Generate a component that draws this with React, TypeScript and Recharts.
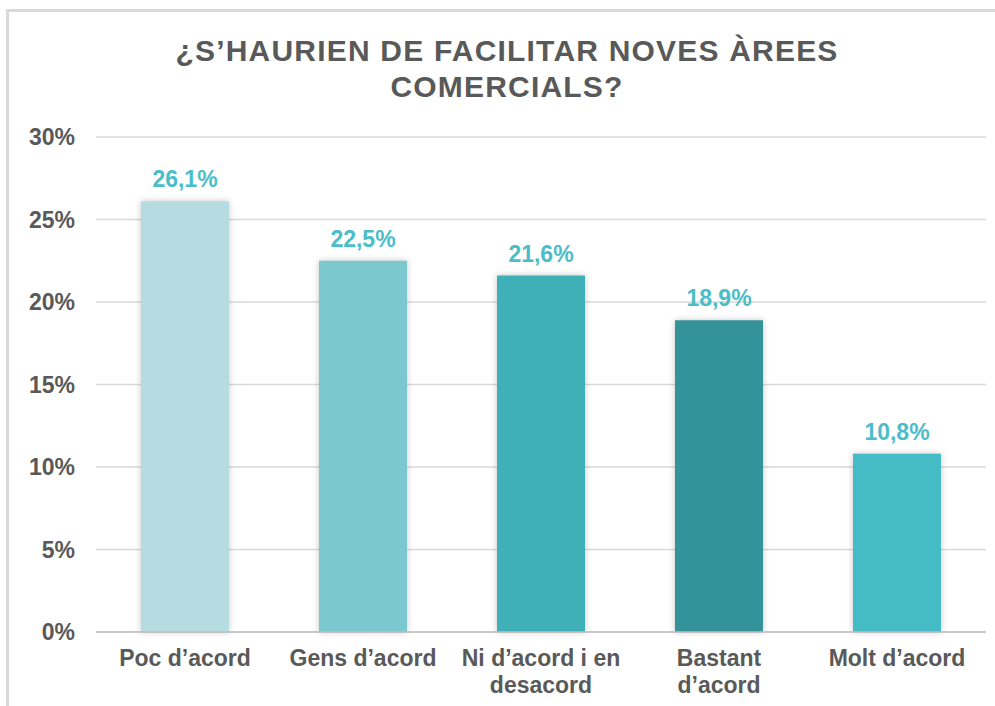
import { BarChart, Bar, XAxis, YAxis, CartesianGrid, Cell, LabelList } from "recharts";

// values
const categories = ["Poc d’acord", "Gens d’acord", "Ni d’acord i en\ndesacord", "Bastant\nd’acord", "Molt d’acord"];
const shares = [26.1, 22.5, 21.6, 18.9, 10.8];
const barColors = ["#B4DCE1", "#7BC8CE", "#40B0B8", "#34929A", "#45BBC6"];
const yTicks = [0, 5, 10, 15, 20, 25, 30];
const titleLines = ["¿S’HAURIEN DE FACILITAR NOVES ÀREES", "COMERCIALS?"];

const FONT = "'Liberation Sans', Arial, sans-serif";
const GREY = "#595959";

const rows = categories.map((c, i) => ({ name: c, value: shares[i] }));

const fmtPct = (v: number) => v.toFixed(1).replace(".", ",") + "%";

// multi-line category label; the axis gives y at the axis line (tickSize 0)
function CategoryTick({ x, y, payload }: any) {
  const lines = String(payload.value).split("\n");
  return (
    <text x={x} y={y} textAnchor="middle" fill={GREY} fontFamily={FONT} fontSize={23} fontWeight="bold">
      {lines.map((l, i) => (
        <tspan key={i} x={x} dy={i === 0 ? 34 : 27}>{l}</tspan>
      ))}
    </text>
  );
}

export default function App() {
  return (
    <div style={{ position: "absolute", left: 0, top: 0, width: 995, height: 706, background: "#fff", overflow: "hidden" }}>
      <div style={{
        position: "absolute", left: 6, top: 9, width: 1100, height: 800,
        borderLeft: "3px solid #d9d9d9", borderTop: "3px solid #d9d9d9",
      }} />
      <div style={{
        position: "absolute", left: 0, top: 33, width: 1014, textAlign: "center",
        fontFamily: FONT, fontWeight: "bold", fontSize: 30, lineHeight: "36px", color: GREY,
        letterSpacing: 1.2,
      }}>
        {titleLines.map((t, i) => <div key={i}>{t}</div>)}
      </div>
      <div style={{ position: "absolute", left: 0, top: 0 }}>
        <BarChart width={995} height={706} data={rows} margin={{ top: 137, right: 9, bottom: 0, left: 0 }} barSize={88}>
          <CartesianGrid vertical={false} stroke="#d9d9d9" strokeWidth={1.5} />
          <XAxis
            dataKey="name" interval={0} height={74} tickLine={false} tickSize={0} tickMargin={0}
            axisLine={{ stroke: "#bfbfbf", strokeWidth: 1.5 }} tick={<CategoryTick />}
          />
          <YAxis
            domain={[0, 30]} ticks={yTicks} width={96} tickLine={false} axisLine={false}
            tickMargin={15} tickFormatter={(v) => v + "%"}
            tick={{ fill: GREY, fontFamily: FONT, fontSize: 23, fontWeight: "bold" }}
          />
          <Bar dataKey="value" isAnimationActive={false}>
            {rows.map((r, i) => (
              <Cell key={r.name} fill={barColors[i]} style={{ filter: "drop-shadow(0px 0px 3px rgba(0,0,0,0.22))" }} />
            ))}
            <LabelList
              dataKey="value" position="top" offset={14} formatter={(v: any) => fmtPct(Number(v))}
              fill="#4BBDC8" fontFamily={FONT} fontSize={23} fontWeight="bold"
            />
          </Bar>
        </BarChart>
      </div>
    </div>
  );
}
